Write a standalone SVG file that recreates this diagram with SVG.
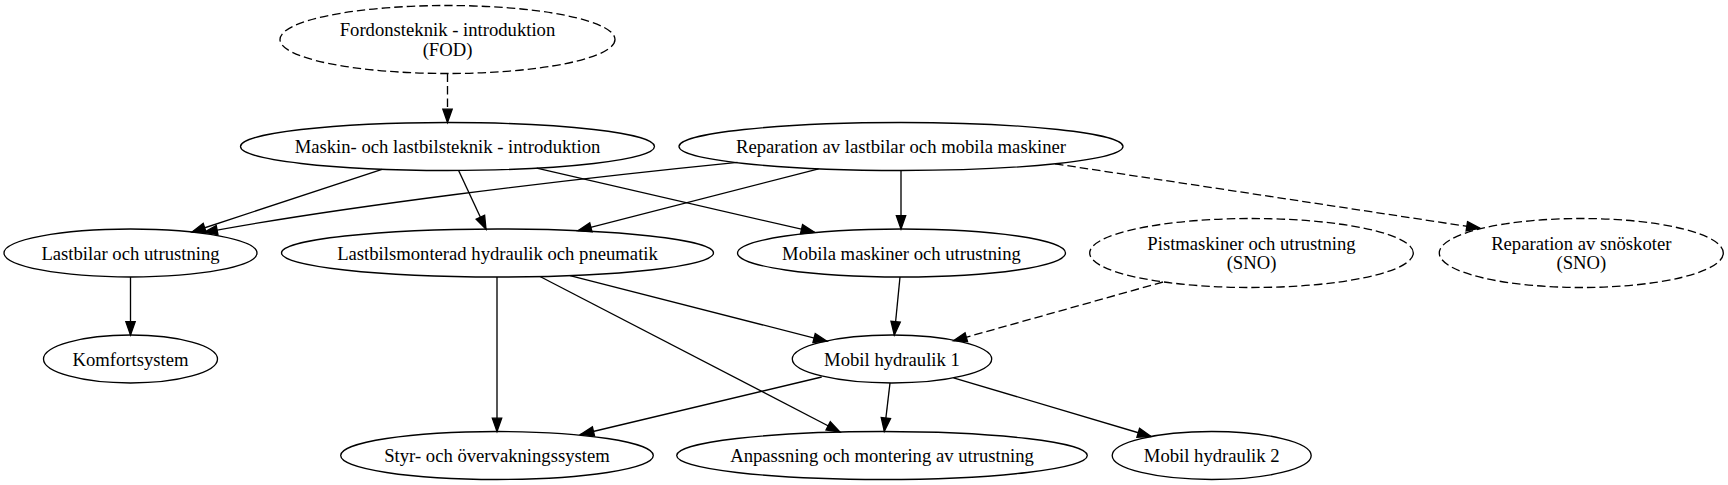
<svg xmlns="http://www.w3.org/2000/svg" width="1728" height="485" viewBox="0 0 1728 485">
<style>
.n ellipse{fill:none;stroke:#000;stroke-width:1.33}
.d ellipse{stroke-dasharray:8.5,4}
text{font-family:"Liberation Serif","Times New Roman",serif;font-size:18.67px;text-anchor:middle;fill:#000}
#edges path{fill:none;stroke:#000;stroke-width:1.33;marker-end:url(#ah)}
#edges path.dash{stroke-dasharray:8.5,4}
</style>
<defs>
<marker id="ah" markerUnits="userSpaceOnUse" markerWidth="16" markerHeight="12" refX="13.33" refY="4.67" orient="auto" overflow="visible">
<path d="M0,0 L13.33,4.67 L0,9.33 Z" fill="#000" stroke="#000" stroke-width="1.33"/>
</marker>
</defs>
<rect width="1728" height="485" fill="#fff"/>
<g id="edges">
<path class="dash" d="M447.5,73.5 L447.5,122.5"/>
<path d="M382,169.3 L192,232"/>
<path d="M737.5,162.3 C560,180 340,207 204,232.5"/>
<path d="M458.5,170.3 L486,229.2"/>
<path d="M536.7,168.2 L814.5,232.2"/>
<path d="M818.6,168.8 L578,230.7"/>
<path d="M901,170.5 L901,229"/>
<path class="dash" d="M1055,163.8 L1480,228.3"/>
<path d="M130.5,277 L130.5,335"/>
<path d="M497,277 L497,431.5"/>
<path d="M540,276.5 L840,432"/>
<path d="M570,275.6 L827,341.3"/>
<path d="M900,277 L894.3,335"/>
<path class="dash" d="M1163,282 L953.5,340.8"/>
<path d="M821.7,377 L580.5,434.5"/>
<path d="M890,383 L884.3,431.3"/>
<path d="M953.5,377.8 L1151,436.5"/>
</g>
<g id="fod" class="n d"><ellipse cx="447.5" cy="39.5" rx="167.5" ry="34"/><text x="447.5" y="36">Fordonsteknik - introduktion</text><text x="447.5" y="55.5">(FOD)</text></g>
<g id="maskin" class="n"><ellipse cx="447.5" cy="146.5" rx="207" ry="24"/><text x="447.5" y="153">Maskin- och lastbilsteknik - introduktion</text></g>
<g id="reparation" class="n"><ellipse cx="901" cy="146.5" rx="222" ry="24"/><text x="901" y="153">Reparation av lastbilar och mobila maskiner</text></g>
<g id="lastbilar" class="n"><ellipse cx="130.5" cy="253" rx="126.5" ry="24"/><text x="130.5" y="259.5">Lastbilar och utrustning</text></g>
<g id="lastbilsmonterad" class="n"><ellipse cx="497.5" cy="253" rx="216" ry="24"/><text x="497.5" y="259.5">Lastbilsmonterad hydraulik och pneumatik</text></g>
<g id="mobila" class="n"><ellipse cx="901.5" cy="253" rx="164" ry="24"/><text x="901.5" y="259.5">Mobila maskiner och utrustning</text></g>
<g id="pist" class="n d"><ellipse cx="1251.5" cy="253" rx="161.8" ry="34.5"/><text x="1251.5" y="249.5">Pistmaskiner och utrustning</text><text x="1251.5" y="269">(SNO)</text></g>
<g id="snoskoter" class="n d"><ellipse cx="1581.3" cy="253" rx="142" ry="34.5"/><text x="1581.3" y="249.5">Reparation av snöskoter</text><text x="1581.3" y="269">(SNO)</text></g>
<g id="komfort" class="n"><ellipse cx="130.5" cy="359" rx="87" ry="24"/><text x="130.5" y="365.5">Komfortsystem</text></g>
<g id="mh1" class="n"><ellipse cx="892" cy="359" rx="99.7" ry="24"/><text x="892" y="365.5">Mobil hydraulik 1</text></g>
<g id="styr" class="n"><ellipse cx="497" cy="455.5" rx="156.3" ry="24"/><text x="497" y="462">Styr- och övervakningssystem</text></g>
<g id="anpassning" class="n"><ellipse cx="882" cy="455.5" rx="205.3" ry="24"/><text x="882" y="462">Anpassning och montering av utrustning</text></g>
<g id="mh2" class="n"><ellipse cx="1211.7" cy="455.5" rx="99.5" ry="24"/><text x="1211.7" y="462">Mobil hydraulik 2</text></g>
</svg>
